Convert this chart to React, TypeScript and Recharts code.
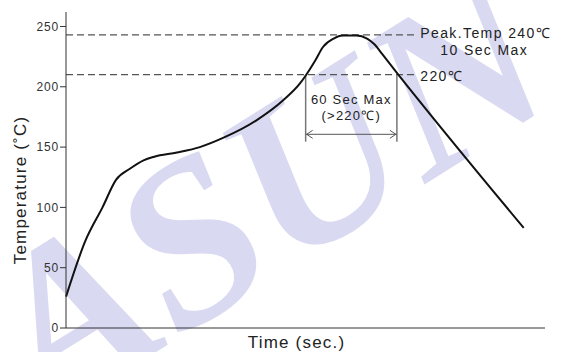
import React from 'react';
import { LineChart, Line, XAxis, YAxis, ReferenceLine } from 'recharts';

const times = [0, 13, 24, 33, 42, 51, 58, 73, 88, 104, 125, 143, 154, 158, 164, 169, 176, 182, 191, 198, 203, 208, 218, 301];
const temps = [26, 73, 100, 123, 132, 139, 142, 145.5, 150, 158, 172, 189, 203, 210, 222, 233, 240, 242.5, 242.5, 240, 235, 227, 211, 83];
const yTicks = [0, 50, 100, 150, 200, 250];
const peakLevel = 243;
const liquidusLevel = 210;
const dashEnd = 229;
const windowStart = 157.6;
const windowEnd = 217.6;
const windowBottom = 154.5;
const arrowLevel = 160.6;

const data = times.map((t, i) => ({ t, temp: temps[i] }));

const FONT = '"Liberation Sans", Arial, sans-serif';
const TXT = '#222';

const PeakShape = (p: any) => (
  <g>
    <line x1={p.x1} y1={p.y1} x2={p.x2} y2={p.y2} stroke="#555" strokeWidth={1.2} strokeDasharray="7 4" />
    <text x={p.x2 + 6} y={p.y1 - 2} dominantBaseline="central" fontFamily={FONT} fontSize={14} letterSpacing={1.4} fill={TXT}>Peak.Temp 240℃</text>
    <text x={p.x2 + 70} y={p.y1 + 15} dominantBaseline="central" textAnchor="middle" fontFamily={FONT} fontSize={14} letterSpacing={1.4} fill={TXT}>10 Sec Max</text>
  </g>
);

const LiquidusShape = (p: any) => (
  <g>
    <line x1={p.x1} y1={p.y1} x2={p.x2} y2={p.y2} stroke="#555" strokeWidth={1.2} strokeDasharray="7 4" />
    <text x={p.x2 + 6} y={p.y1 + 1} dominantBaseline="central" fontFamily={FONT} fontSize={14} letterSpacing={1.4} fill={TXT}>220℃</text>
  </g>
);

const ArrowShape = (p: any) => {
  const y = p.y1;
  const cx = (p.x1 + p.x2) / 2;
  return (
    <g>
      <line x1={p.x1} y1={y} x2={p.x2} y2={y} stroke="#555" strokeWidth={1} />
      <polyline points={`${p.x1 + 7},${y - 4} ${p.x1 + 1},${y} ${p.x1 + 7},${y + 4}`} fill="none" stroke="#555" strokeWidth={1} />
      <polyline points={`${p.x2 - 7},${y - 4} ${p.x2 - 1},${y} ${p.x2 - 7},${y + 4}`} fill="none" stroke="#555" strokeWidth={1} />
      <text x={cx} y={y - 35} dominantBaseline="central" textAnchor="middle" fontFamily={FONT} fontSize={13} letterSpacing={1.2} fill={TXT}>60 Sec Max</text>
      <text x={cx} y={y - 18.5} dominantBaseline="central" textAnchor="middle" fontFamily={FONT} fontSize={13} letterSpacing={1.2} fill={TXT}>(&gt;220℃)</text>
    </g>
  );
};

const XLabel = (props: any) => {
  const vb = props.viewBox || { x: 66, y: 328, width: 479, height: 24 };
  return (
    <text x={vb.x + vb.width / 2 - 9} y={348} textAnchor="middle" fontFamily={FONT} fontSize={17} letterSpacing={1.2} fill={TXT}>Time (sec.)</text>
  );
};

const YLabel = () => (
  <text x={0} y={0} transform="translate(20,190) rotate(-90)" textAnchor="middle" dominantBaseline="central" fontFamily={FONT} fontSize={17} letterSpacing={1.2} fill={TXT}>Temperature (˚C)</text>
);

export default function App() {
  return (
    <div style={{ position: 'absolute', left: 0, top: 0, width: 562, height: 352, background: '#fff', overflow: 'hidden' }}>
      <svg width={562} height={352} style={{ position: 'absolute', left: 0, top: 0 }}>
        <text
          x={0}
          y={0}
          transform="translate(266,192) rotate(-32)"
          textAnchor="middle"
          dominantBaseline="central"
          fontFamily='"Liberation Serif", "DejaVu Serif", serif'
          fontStyle="italic"
          fontWeight="bold"
          fontSize={230}
          fill="#d9d9f2"
        >ASUN</text>
      </svg>
      <div style={{ position: 'absolute', left: 0, top: 0 }}>
        <LineChart width={562} height={352} data={data} margin={{ top: 12, right: 17, left: 0, bottom: 0 }}>
          <XAxis
            dataKey="t"
            type="number"
            domain={[0, 315]}
            tick={false}
            tickLine={false}
            axisLine={{ stroke: '#333', strokeWidth: 1 }}
            height={24}
            label={<XLabel />}
          />
          <YAxis
            type="number"
            domain={[0, 262]}
            ticks={yTicks}
            width={66}
            tickSize={6}
            tickMargin={1}
            tickLine={{ stroke: '#333' }}
            axisLine={{ stroke: '#333', strokeWidth: 1 }}
            tick={{ fontFamily: FONT, fontSize: 12, fill: '#333', letterSpacing: 0.8 }}
            label={<YLabel />}
          />
          <ReferenceLine segment={[{ x: 0, y: peakLevel }, { x: dashEnd, y: peakLevel }]} ifOverflow="visible" shape={PeakShape} />
          <ReferenceLine segment={[{ x: 0, y: liquidusLevel }, { x: dashEnd, y: liquidusLevel }]} ifOverflow="visible" shape={LiquidusShape} />
          <ReferenceLine segment={[{ x: windowStart, y: liquidusLevel }, { x: windowStart, y: windowBottom }]} ifOverflow="visible" stroke="#777" strokeWidth={1.5} />
          <ReferenceLine segment={[{ x: windowEnd, y: liquidusLevel }, { x: windowEnd, y: windowBottom }]} ifOverflow="visible" stroke="#777" strokeWidth={1.5} />
          <ReferenceLine segment={[{ x: windowStart, y: arrowLevel }, { x: windowEnd, y: arrowLevel }]} ifOverflow="visible" shape={ArrowShape} />
          <Line type="monotone" dataKey="temp" stroke="#111" strokeWidth={2} dot={false} isAnimationActive={false} />
        </LineChart>
      </div>
    </div>
  );
}
